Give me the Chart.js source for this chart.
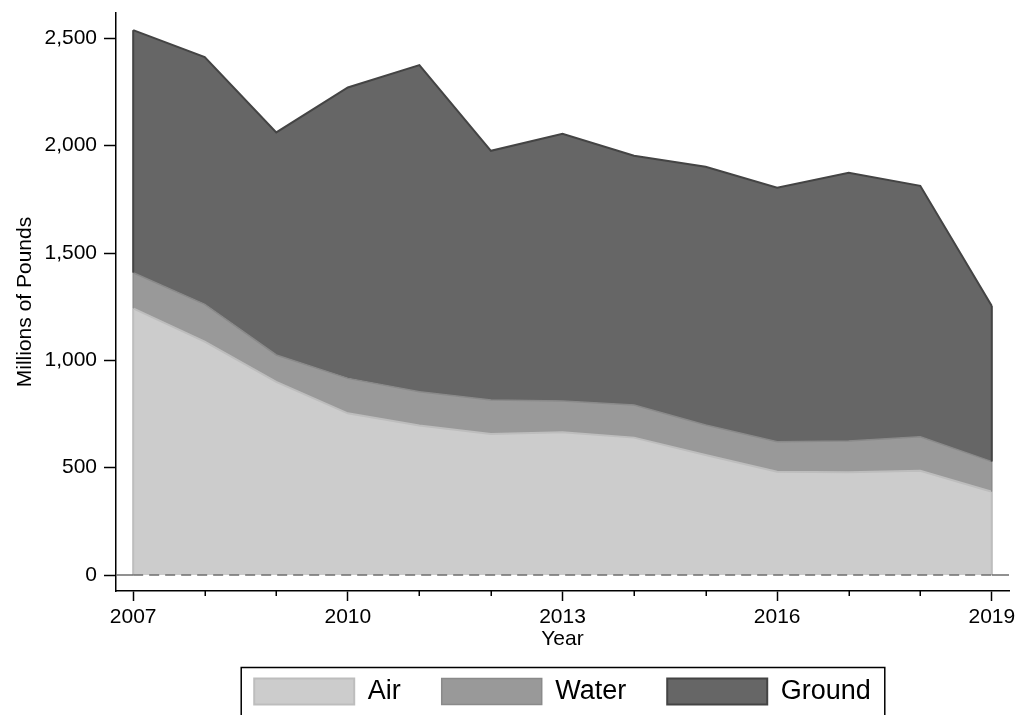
<!DOCTYPE html>
<html>
<head>
<meta charset="utf-8">
<script src="https://cdn.jsdelivr.net/npm/chart.js@4/dist/chart.umd.min.js"></script>
<style>
  html, body { margin: 0; padding: 0; background: #fff; overflow: hidden; }
  canvas { display: block; }
</style>
</head>
<body>
<canvas id="c" width="1022" height="715"></canvas>
<script>
// ---- data (millions of pounds) ----
const years  = [2007, 2008, 2009, 2010, 2011, 2012, 2013, 2014, 2015, 2016, 2017, 2018, 2019];
const air    = [1242, 1087, 900, 753, 696, 657, 665, 640, 559, 481, 479, 486, 388];
const water  = [166, 174, 125, 163, 158, 158, 145, 152, 140, 140, 145, 158, 140];
const ground = [1130, 1152, 1037, 1355, 1521, 1161, 1245, 1161, 1203, 1183, 1250, 1169, 725];
const seriesNames = ['Air', 'Water', 'Ground'];
const yTicks = [0, 500, 1000, 1500, 2000, 2500];
const xMajorTicks = [2007, 2010, 2013, 2016, 2019];

const FONT = '"Liberation Sans", Arial, Helvetica, sans-serif';
const pts = arr => years.map((y, i) => ({ x: y, y: arr[i] }));

// Draw outline edges at ends, the y=0 reference line, minor x ticks and the legend frame
const extras = {
  id: 'extras',
  afterDatasetsDraw(chart) {
    const ctx = chart.ctx, xs = chart.scales.x, ys = chart.scales.y, ca = chart.chartArea;
    const y0 = ys.getPixelForValue(0);
    chart.data.datasets.forEach((ds, i) => {
      const meta = chart.getDatasetMeta(i);
      const prev = i > 0 ? chart.getDatasetMeta(i - 1) : null;
      [0, meta.data.length - 1].forEach(k => {
        const p = meta.data[k];
        const lowY = prev ? prev.data[k].y : y0;
        ctx.save();
        ctx.strokeStyle = ds.borderColor;
        ctx.lineWidth = ds.borderWidth;
        ctx.beginPath();
        ctx.moveTo(p.x, p.y);
        ctx.lineTo(p.x, lowY);
        ctx.stroke();
        ctx.restore();
      });
    });
    const xa = xs.getPixelForValue(years[0]);
    const xb = xs.getPixelForValue(years[years.length - 1]);
    ctx.save();
    ctx.strokeStyle = '#6e6e6e';
    ctx.lineWidth = 1.5;
    ctx.beginPath();
    ctx.moveTo(ca.left, y0); ctx.lineTo(xa, y0);
    ctx.moveTo(xb, y0); ctx.lineTo(ca.right, y0);
    ctx.stroke();
    ctx.setLineDash([10, 6]);
    ctx.beginPath();
    ctx.moveTo(xa, y0); ctx.lineTo(xb, y0);
    ctx.stroke();
    ctx.restore();
  },
  afterDraw(chart) {
    const ctx = chart.ctx, xs = chart.scales.x;
    ctx.save();
    ctx.strokeStyle = '#000';
    ctx.lineWidth = 1.5;
    years.forEach(y => {
      if (xMajorTicks.includes(y)) return;
      const px = Math.round(xs.getPixelForValue(y)) + 0.25;
      ctx.beginPath();
      ctx.moveTo(px, xs.top);
      ctx.lineTo(px, xs.top + 5);
      ctx.stroke();
    });
    ctx.restore();
    const lg = chart.legend;
    if (lg && lg.legendHitBoxes && lg.legendHitBoxes.length) {
      const hb = lg.legendHitBoxes;
      const first = hb[0], last = hb[hb.length - 1];
      const left = first.left - 13;
      const right = last.left + last.width + 14;
      const top = first.top - 10.5;
      ctx.save();
      ctx.strokeStyle = '#000';
      ctx.lineWidth = 1.5;
      ctx.strokeRect(left, top, right - left, chart.height + 10 - top);
      ctx.restore();
    }
  }
};

const chart = new Chart(document.getElementById('c'), {
  type: 'line',
  data: {
    datasets: [
      { label: seriesNames[0], data: pts(air), fill: 'origin',
        backgroundColor: '#cccccc', borderColor: '#bdbdbd', borderWidth: 2 },
      { label: seriesNames[1], data: pts(water), fill: '-1',
        backgroundColor: '#999999', borderColor: '#8a8a8a', borderWidth: 1.5 },
      { label: seriesNames[2], data: pts(ground), fill: '-1',
        backgroundColor: '#666666', borderColor: '#444444', borderWidth: 2 }
    ]
  },
  plugins: [extras],
  options: {
    responsive: false,
    animation: false,
    devicePixelRatio: 1,
    layout: { padding: { top: 13, right: 13, left: 0, bottom: 0 } },
    elements: { point: { radius: 0, hoverRadius: 0 }, line: { tension: 0 } },
    plugins: {
      tooltip: { enabled: false },
      legend: {
        position: 'bottom',
        fullSize: false,
        labels: {
          boxWidth: 100, boxHeight: 26, padding: 41,
          color: '#000',
          font: { family: FONT, size: 27 }
        }
      }
    },
    scales: {
      x: {
        type: 'linear',
        min: 2006.76, max: 2019.24,
        afterBuildTicks: s => { s.ticks = years.map(v => ({ value: v })); },
        afterFit: s => { s.height = 46; s.paddingLeft = 0; s.paddingRight = 0; },
        ticks: {
          autoSkip: false, maxRotation: 0, padding: 4,
          color: '#000', font: { family: FONT, size: 21 },
          callback: v => xMajorTicks.includes(v) ? String(v) : ''
        },
        grid: {
          drawOnChartArea: false, drawTicks: true, tickLength: 10,
          tickWidth: 1.5,
          tickColor: c => (c.tick && xMajorTicks.includes(c.tick.value)) ? '#000' : 'rgba(0,0,0,0)'
        },
        border: { display: true, color: '#000', width: 1.5 },
        title: {
          display: true, text: 'Year', color: '#000',
          font: { family: FONT, size: 21 }, padding: { top: 0, bottom: -15 }
        }
      },
      y: {
        stacked: true,
        min: -74.5, max: 2618,
        afterBuildTicks: s => { s.ticks = yTicks.map(v => ({ value: v })); },
        afterFit: s => { s.width = 116; s.paddingTop = 0; s.paddingBottom = 0; },
        ticks: {
          padding: 7, color: '#000', font: { family: FONT, size: 21 },
          callback: v => v.toLocaleString('en-US')
        },
        grid: {
          drawOnChartArea: false, drawTicks: true, tickLength: 12,
          tickWidth: 1.5, tickColor: '#000'
        },
        border: { display: true, color: '#000', width: 1.5 },
        title: {
          display: true, text: 'Millions of Pounds', color: '#000',
          font: { family: FONT, size: 21 }, padding: { top: 13, bottom: 0 }
        }
      }
    }
  }
});
</script>
</body>
</html>
